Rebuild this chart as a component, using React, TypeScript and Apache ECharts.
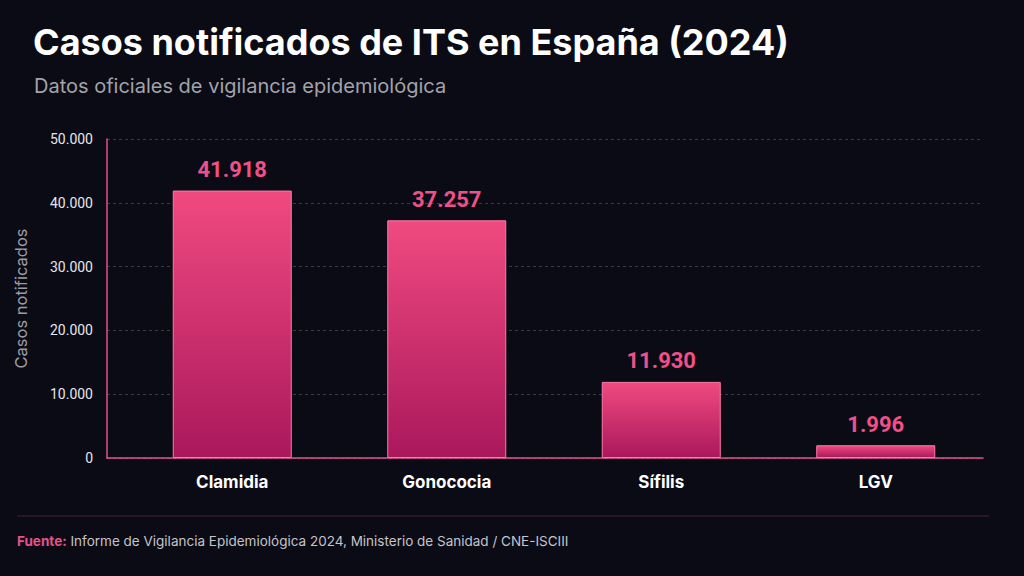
import React, { useEffect, useRef } from "react";
import * as echarts from "echarts";

const categories = ["Clamidia", "Gonococia", "Sífilis", "LGV"];
const casos = [41918, 37257, 11930, 1996];
const yTicks = [0, 10000, 20000, 30000, 40000, 50000];

const titleText = "Casos notificados de ITS en España (2024)";
const subtitleText = "Datos oficiales de vigilancia epidemiológica";
const yAxisName = "Casos notificados";
const sourceLabel = "Fuente:";
const sourceText = " Informe de Vigilancia Epidemiológica 2024, Ministerio de Sanidad / CNE-ISCIII";

const fmt = (v: number) => String(v).replace(/\B(?=(\d{3})+(?!\d))/g, ".");

export default function App() {
  const ref = useRef<HTMLDivElement>(null);
  useEffect(() => {
    if (!ref.current) return;
    const chart = echarts.init(ref.current, null, { renderer: "svg" });
    const font = "Roboto, 'Noto Sans', sans-serif";
    const inter = "Inter, 'Noto Sans', sans-serif";
    chart.setOption({
      animation: false,
      backgroundColor: "#0b0b15",
      textStyle: { fontFamily: font },
      grid: [
        { left: 107, right: 41, top: 139, bottom: 118 },
        { left: 125, right: 41, top: 139, bottom: 118 },
      ],
      xAxis: [
        {
          type: "category",
          gridIndex: 0,
          data: categories,
          axisLine: { show: true, lineStyle: { color: "#e2538c", width: 1.5 } },
          axisTick: { show: false },
          axisLabel: { show: false },
        },
        {
          type: "category",
          gridIndex: 1,
          data: categories,
          axisLine: { show: false },
          axisTick: { show: false },
          axisLabel: {
            color: "#ffffff",
            fontSize: 17,
            fontWeight: "bold",
            margin: 15,
            fontFamily: inter,
          },
        },
      ],
      yAxis: [
        {
          type: "value",
          gridIndex: 0,
          min: 0,
          max: 50000,
          interval: 10000,
          name: yAxisName,
          nameLocation: "middle",
          nameGap: 78,
          nameTextStyle: { color: "#9b9ba3", fontSize: 16.5, fontFamily: inter },
          axisLine: { show: true, lineStyle: { color: "#e2538c", width: 1.5 } },
          axisTick: { show: false },
          axisLabel: {
            color: "#e6e6ea",
            fontSize: 14,
            margin: 14,
            fontFamily: font,
            formatter: (v: number) => (yTicks.includes(v) ? fmt(v) : ""),
          },
          splitLine: {
            show: true,
            lineStyle: { color: "#3a3a46", type: [3, 3], width: 1 },
          },
        },
        {
          type: "value",
          gridIndex: 1,
          min: 0,
          max: 50000,
          interval: 10000,
          show: false,
          splitLine: { show: false },
        },
      ],
      series: [
        {
          type: "bar",
          xAxisIndex: 1,
          yAxisIndex: 1,
          data: casos,
          barWidth: 119,
          itemStyle: {
            color: new echarts.graphic.LinearGradient(0, 0, 0, 1, [
              { offset: 0, color: "#f04a80" },
              { offset: 1, color: "#aa185c" },
            ]),
            borderColor: "#ff7aa8",
            borderWidth: 1,
          },
          label: {
            show: true,
            position: "top",
            distance: 10,
            color: "#f0508a",
            fontSize: 22,
            fontWeight: "bold",
            fontFamily: font,
            formatter: (p: any) => fmt(p.value),
          },
        },
      ],
      graphic: [
        {
          type: "text",
          left: 33,
          top: 24,
          style: {
            text: titleText,
            fill: "#ffffff",
            font: `bold 36px ${inter}`,
          },
        },
        {
          type: "text",
          left: 34,
          top: 76,
          style: {
            text: subtitleText,
            fill: "#a3a3ab",
            font: `20px ${inter}`,
          },
        },
        {
          type: "line",
          shape: { x1: 17, y1: 516, x2: 989, y2: 516 },
          style: { stroke: "#4a2038", lineWidth: 1 },
        },
        {
          type: "text",
          left: 17,
          top: 534,
          style: {
            text: `{a|${sourceLabel}}{b|${sourceText}}`,
            rich: {
              a: { fill: "#e2538c", font: `bold 13.5px ${inter}` },
              b: { fill: "#c4c4cc", font: `13.5px ${inter}` },
            },
          } as any,
        },
      ],
    });
    return () => chart.dispose();
  }, []);
  return (
    <div
      ref={ref}
      style={{ width: 1024, height: 576, position: "fixed", left: 0, top: 0 }}
    />
  );
}
